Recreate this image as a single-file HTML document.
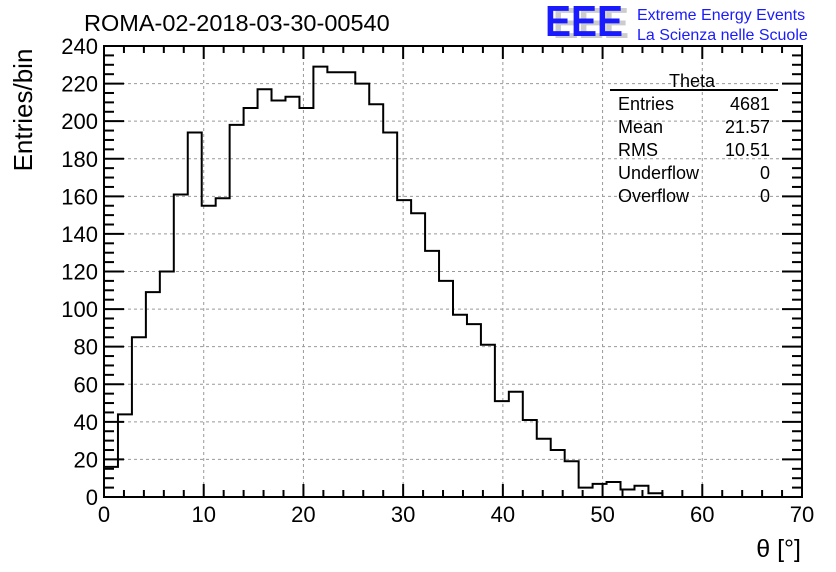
<!DOCTYPE html>
<html><head><meta charset="utf-8"><style>
html,body{margin:0;padding:0;background:#fff;}
svg{display:block;font-family:"Liberation Sans",sans-serif;}
</style></head><body>
<svg id="c" width="836" height="572" viewBox="0 0 836 572">
<text x="84" y="31" font-size="23.5" fill="#000">ROMA-02-2018-03-30-00540</text>
<g>
<text x="553" y="38" font-size="44" fill="#ccc" font-weight="bold" textLength="76" lengthAdjust="spacingAndGlyphs">EEE</text>
<text x="545" y="36" font-size="44" fill="#1a1aff" font-weight="bold" textLength="78" lengthAdjust="spacingAndGlyphs">EEE</text>
<text x="637" y="20" font-size="16" fill="#1a1aff">Extreme Energy Events</text>
<text x="637" y="40" font-size="16" fill="#1a1aff">La Scienza nelle Scuole</text>
</g>
<g id="grid"></g>
<g id="ticks"></g>
<path id="hist" fill="none" stroke="#000" stroke-width="2"></path>
<rect x="104" y="46" width="698" height="451" fill="none" stroke="#000" stroke-width="2"></rect>
<g id="labels"></g>
<text x="32" y="110" font-size="26" transform="rotate(-90 32 110)" text-anchor="middle">Entries/bin</text>
<text x="801" y="557" font-size="25" text-anchor="end">θ [°]</text>
<g font-size="18">
<text x="692" y="87" text-anchor="middle">Theta</text>
<line x1="610" y1="90" x2="778" y2="90" stroke="#000" stroke-width="2"/>
<text x="618" y="110">Entries</text><text x="770" y="110" text-anchor="end">4681</text>
<text x="618" y="133">Mean</text><text x="770" y="133" text-anchor="end">21.57</text>
<text x="618" y="156">RMS</text><text x="770" y="156" text-anchor="end">10.51</text>
<text x="618" y="179">Underflow</text><text x="770" y="179" text-anchor="end">0</text>
<text x="618" y="202">Overflow</text><text x="770" y="202" text-anchor="end">0</text>
</g>
</svg>
<script>
const counts = [16,44,85,109,120,161,194,155,159,198,207,217,211,213,207,229,226,226,220,209,194,158,151,131,115,97,92,81,51,56,41,31,25,19,5,7,8,4,6,2,0,0,0,0,0,0,0,0,0,0];
const binWidth = 1.4;
const xTicks = [0,10,20,30,40,50,60,70];
const yTicks = [0,20,40,60,80,100,120,140,160,180,200,220,240];
const X0=104,X1=802,Y0=497,Y1=46;
const sx=v=>X0+(v/70)*(X1-X0);
const sy=v=>Y0-(v/240)*(Y0-Y1);
const NS="http://www.w3.org/2000/svg";
const grid=document.getElementById('grid'),ticks=document.getElementById('ticks'),labels=document.getElementById('labels');
function ln(p,x1,y1,x2,y2,st,w,d){const l=document.createElementNS(NS,'line');l.setAttribute('x1',x1);l.setAttribute('y1',y1);l.setAttribute('x2',x2);l.setAttribute('y2',y2);l.setAttribute('stroke',st);l.setAttribute('stroke-width',w);if(d)l.setAttribute('stroke-dasharray',d);p.appendChild(l);return l;}
xTicks.forEach(t=>{
 const g=ln(grid,sx(t),Y0,sx(t),Y1,'#999',1,'3,3');
 
 
 const tx=document.createElementNS(NS,'text');tx.setAttribute('x',sx(t));tx.setAttribute('y',522);tx.setAttribute('font-size','22');tx.setAttribute('text-anchor','middle');tx.textContent=t;
 
 
 labels.appendChild(tx);
});
yTicks.forEach(t=>{
 const g=ln(grid,X0,sy(t),X1,sy(t),'#999',1,'3,3');
 
 
 const tx=document.createElementNS(NS,'text');tx.setAttribute('x',98);tx.setAttribute('y',sy(t)+8);tx.setAttribute('font-size','22');tx.setAttribute('text-anchor','end');tx.textContent=t;
 
 
 labels.appendChild(tx);
});
for(let v=0;v<=70;v+=2){const big=v%10===0;const L=big?13:7;
 ln(ticks,sx(v),Y0,sx(v),Y0-L,'#000',2);ln(ticks,sx(v),Y1,sx(v),Y1+L,'#000',2);}
for(let v=0;v<=240;v+=5){const big=v%20===0;const L=big?20:10;
 ln(ticks,X0,sy(v),X0+L,sy(v),'#000',2);ln(ticks,X1,sy(v),X1-L,sy(v),'#000',2);}
let d='M'+sx(0)+','+sy(0);
counts.forEach((c,i)=>{const a=sx(i*binWidth),b=sx((i+1)*binWidth);d+=' L'+a+','+sy(c)+' L'+b+','+sy(c);});
document.getElementById('hist').setAttribute('d',d);
</script>
</body></html>
